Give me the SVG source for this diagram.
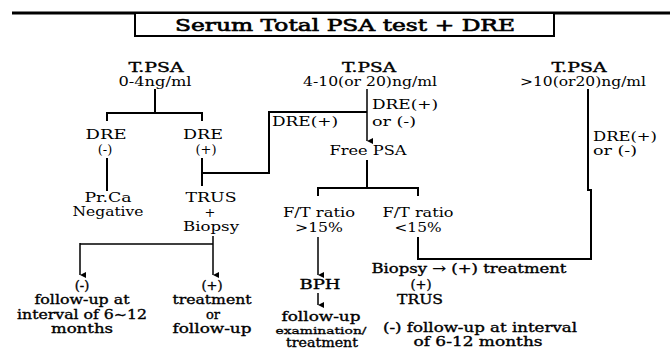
<svg xmlns="http://www.w3.org/2000/svg" width="670" height="350" viewBox="0 0 670 350">
<defs>
<marker id="ah" viewBox="0 0 6 6" refX="3" refY="6" markerWidth="6" markerHeight="6" markerUnits="userSpaceOnUse" orient="auto-start-reverse">
<path d="M0,0 L6,0 L3,6 Z" fill="#000"/>
</marker>
<style>
text{font-family:"DejaVu Serif","Liberation Serif",serif;fill:#000;text-anchor:middle;font-size:13px}
.b{stroke:#000;stroke-width:0.35px}
.h{font-size:12px}
.l{text-anchor:start}
.ln{fill:none;stroke:#000;stroke-width:2}
.ar{fill:none;stroke:#000;stroke-width:1.5;marker-end:url(#ah)}
</style>
</defs>
<rect width="670" height="350" fill="#fff"/>
<line x1="12" y1="13" x2="670" y2="13" stroke="#000" stroke-width="3"/>
<g id="title">
<rect x="135" y="13" width="419" height="23" fill="#fff" stroke="#000" stroke-width="2"/>
<text x="345" y="31" class="b" style="font-size:16.5px;stroke-width:0.6px" textLength="340" lengthAdjust="spacingAndGlyphs">Serum Total PSA test + DRE</text>
</g>
<g id="connectors">
<path class="ln" d="M155 89V113M107 121V113H202V121"/>
<path class="ln" d="M107 158V191"/>
<path class="ln" d="M202 158V186M202 173H269V112H367"/>
<path class="ar" d="M367 89V141"/>
<path class="ln" d="M367 160V188M318 196V188H418V196"/>
<path class="ar" d="M318 237V275"/>
<path class="ar" d="M318 293V305"/>
<path class="ln" d="M418 237V259H591V190H588V89"/>
<path class="ar" d="M213 236V275"/>
<path class="ar" d="M80 244H213M80 243V275"/>
</g>
<g id="tpsa1"><text x="156" y="72" class="b h" textLength="55" lengthAdjust="spacingAndGlyphs">T.PSA</text><text x="155" y="86" class="h" textLength="73" lengthAdjust="spacingAndGlyphs">0-4ng/ml</text></g>
<g id="tpsa2"><text x="369" y="72" class="b h" textLength="54" lengthAdjust="spacingAndGlyphs">T.PSA</text><text x="370" y="86" class="h" textLength="134" lengthAdjust="spacingAndGlyphs">4-10(or 20)ng/ml</text></g>
<g id="tpsa3"><text x="579" y="72" class="b h" textLength="55" lengthAdjust="spacingAndGlyphs">T.PSA</text><text x="583" y="86" class="h" textLength="126" lengthAdjust="spacingAndGlyphs">&gt;10(or20)ng/ml</text></g>
<g id="dre-neg"><text x="106" y="139" textLength="41" lengthAdjust="spacingAndGlyphs">DRE</text><text x="105" y="154">(-)</text></g>
<g id="dre-pos"><text x="203" y="139" textLength="40" lengthAdjust="spacingAndGlyphs">DRE</text><text x="206" y="154">(+)</text></g>
<g id="prca"><text x="108" y="202" textLength="47" lengthAdjust="spacingAndGlyphs">Pr.Ca</text><text x="108" y="216" textLength="71" lengthAdjust="spacingAndGlyphs">Negative</text></g>
<g id="trus-biopsy"><text x="211" y="202" textLength="51" lengthAdjust="spacingAndGlyphs">TRUS</text><text x="210" y="217">+</text><text x="211" y="231" textLength="56" lengthAdjust="spacingAndGlyphs">Biopsy</text></g>
<g id="lbl-dre-mid"><text x="272" y="126" class="l" textLength="66" lengthAdjust="spacingAndGlyphs">DRE(+)</text></g>
<g id="lbl-dre-free"><text x="372" y="109" class="l" textLength="66" lengthAdjust="spacingAndGlyphs">DRE(+)</text><text x="372" y="126" class="l" textLength="44" lengthAdjust="spacingAndGlyphs">or (-)</text></g>
<g id="lbl-dre-right"><text x="593" y="141" class="l" textLength="64" lengthAdjust="spacingAndGlyphs">DRE(+)</text><text x="593" y="155" class="l" textLength="44" lengthAdjust="spacingAndGlyphs">or (-)</text></g>
<g id="freepsa"><text x="368" y="155" textLength="77" lengthAdjust="spacingAndGlyphs">Free PSA</text></g>
<g id="ft-high"><text x="319" y="217" textLength="72" lengthAdjust="spacingAndGlyphs">F/T ratio</text><text x="319" y="232" textLength="48" lengthAdjust="spacingAndGlyphs">&gt;15%</text></g>
<g id="ft-low"><text x="418" y="217" textLength="71" lengthAdjust="spacingAndGlyphs">F/T ratio</text><text x="418" y="232" textLength="47" lengthAdjust="spacingAndGlyphs">&lt;15%</text></g>
<g id="neg-follow"><text x="82" y="290" class="b">(-)</text><text x="82" y="304" class="b" textLength="95" lengthAdjust="spacingAndGlyphs">follow-up at</text><text x="82" y="319" class="b" textLength="130" lengthAdjust="spacingAndGlyphs">interval of 6~12</text><text x="82" y="333" class="b" textLength="62" lengthAdjust="spacingAndGlyphs">months</text></g>
<g id="pos-treat"><text x="212" y="290" class="b">(+)</text><text x="212" y="304" class="b" textLength="79" lengthAdjust="spacingAndGlyphs">treatment</text><text x="213" y="319" class="b">or</text><text x="212" y="333" class="b" textLength="79" lengthAdjust="spacingAndGlyphs">follow-up</text></g>
<g id="bph"><text x="320" y="289" class="b" textLength="41" lengthAdjust="spacingAndGlyphs">BPH</text></g>
<g id="bph-follow"><text x="321" y="321" class="b" textLength="79" lengthAdjust="spacingAndGlyphs">follow-up</text><text x="321" y="334" class="b" style="font-size:10px;stroke-width:0.3px" textLength="91" lengthAdjust="spacingAndGlyphs">examination/</text><text x="322" y="347" class="b h" textLength="72" lengthAdjust="spacingAndGlyphs">treatment</text></g>
<g id="biopsy-right"><text x="469" y="273" class="b" textLength="195" lengthAdjust="spacingAndGlyphs">Biopsy → (+) treatment</text><text x="421" y="289" class="b">(+)</text><text x="420" y="304" class="b" textLength="46" lengthAdjust="spacingAndGlyphs">TRUS</text></g>
<g id="neg-follow-right"><text x="480" y="332" class="b" textLength="194" lengthAdjust="spacingAndGlyphs">(-) follow-up at interval</text><text x="478" y="346" class="b h" textLength="129" lengthAdjust="spacingAndGlyphs">of 6-12 months</text></g>
</svg>
